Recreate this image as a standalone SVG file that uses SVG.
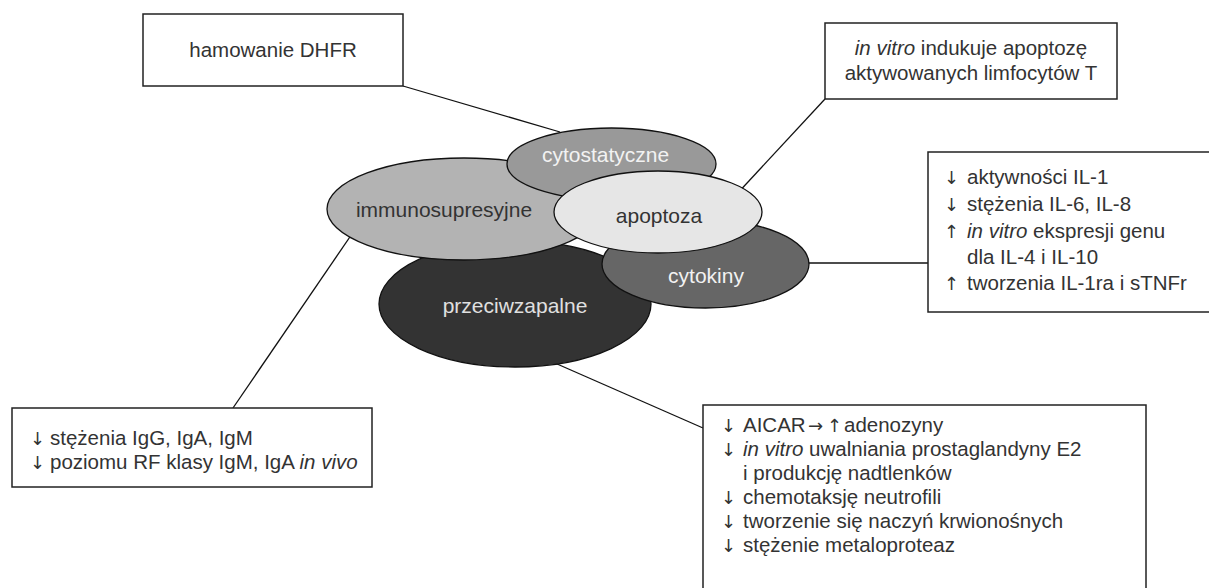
<svg xmlns="http://www.w3.org/2000/svg" width="1209" height="588" viewBox="0 0 1209 588">
<style>
.box{fill:#fff;stroke:#222;stroke-width:1.5}
.ell{stroke:#111;stroke-width:1.3}
.con{stroke:#111;stroke-width:1.3;fill:none}
text{font-family:"Liberation Sans",Arial,sans-serif;font-size:20.5px;fill:#333}
.ar{font-family:"DejaVu Sans",sans-serif;font-size:18px}
.lbl{font-size:21px;text-anchor:middle}
.c{text-anchor:middle}
.light{fill:#f2f2f2}
.it{font-style:italic}
</style>
<rect width="1209" height="588" fill="#fff"/>
<g id="connectors">
<line class="con" x1="403" y1="86" x2="560" y2="132"/>
<line class="con" x1="825" y1="99" x2="735" y2="196"/>
<line class="con" x1="800" y1="263" x2="928" y2="263"/>
<line class="con" x1="233" y1="408" x2="356" y2="228"/>
<line class="con" x1="703" y1="428" x2="548" y2="360"/>
</g>
<g id="przeciwzapalne">
<ellipse class="ell" cx="515" cy="304" rx="136" ry="63" fill="#333"/>
<text class="lbl light" x="515" y="313" style="fill:#e0e0e0">przeciwzapalne</text>
</g>
<g id="immunosupresyjne">
<ellipse class="ell" cx="464" cy="209" rx="137" ry="51" fill="#b3b3b3"/>
<text class="lbl" x="444" y="217">immunosupresyjne</text>
</g>
<g id="cytostatyczne">
<ellipse class="ell" cx="611.5" cy="164" rx="104.5" ry="36" fill="#999"/>
<text class="lbl light" x="605.5" y="162">cytostatyczne</text>
</g>
<g id="cytokiny">
<ellipse class="ell" cx="705.5" cy="264" rx="103.5" ry="44" fill="#666"/>
<text class="lbl light" x="706" y="283">cytokiny</text>
</g>
<g id="apoptoza">
<ellipse class="ell" cx="658" cy="212" rx="104" ry="41" fill="#e6e6e6"/>
<text class="lbl" x="659" y="223">apoptoza</text>
</g>
<g id="box-dhfr">
<rect class="box" x="143" y="14" width="260" height="72"/>
<text class="c" x="273" y="57">hamowanie DHFR</text>
</g>
<g id="box-apoptoza">
<rect class="box" x="825" y="23" width="292" height="76"/>
<text class="c" x="971" y="55"><tspan class="it">in vitro</tspan> indukuje apoptozę</text>
<text class="c" x="971" y="80">aktywowanych limfocytów T</text>
</g>
<g id="box-cytokiny">
<rect class="box" x="928" y="152" width="300" height="160"/>
<text class="ar" x="944" y="184">↓</text><text x="967" y="184">aktywności IL-1</text>
<text class="ar" x="944" y="211">↓</text><text x="967" y="211">stężenia IL-6, IL-8</text>
<text class="ar" x="944" y="238">↑</text><text x="967" y="238"><tspan class="it">in vitro</tspan> ekspresji genu</text>
<text x="967" y="264">dla IL-4 i IL-10</text>
<text class="ar" x="944" y="290">↑</text><text x="967" y="290">tworzenia IL-1ra i sTNFr</text>
</g>
<g id="box-immuno">
<rect class="box" x="12" y="408" width="360" height="79"/>
<text class="ar" x="30" y="445">↓</text><text x="50" y="445">stężenia IgG, IgA, IgM</text>
<text class="ar" x="30" y="469">↓</text><text x="50" y="469">poziomu RF klasy IgM, IgA <tspan class="it">in vivo</tspan></text>
</g>
<g id="box-przeciwzapalne">
<rect class="box" x="703" y="405" width="443" height="200"/>
<text class="ar" x="721" y="432">↓</text><text x="743" y="432">AICAR</text><text class="ar" x="808" y="432">→</text><text class="ar" x="827" y="432">↑</text><text x="844" y="432">adenozyny</text>
<text class="ar" x="721" y="456">↓</text><text x="743" y="456"><tspan class="it">in vitro</tspan> uwalniania prostaglandyny E2</text>
<text x="743" y="480">i produkcję nadtlenków</text>
<text class="ar" x="721" y="504">↓</text><text x="743" y="504">chemotaksję neutrofili</text>
<text class="ar" x="721" y="528">↓</text><text x="743" y="528">tworzenie się naczyń krwionośnych</text>
<text class="ar" x="721" y="552">↓</text><text x="743" y="552">stężenie metaloproteaz</text>
</g>
</svg>
